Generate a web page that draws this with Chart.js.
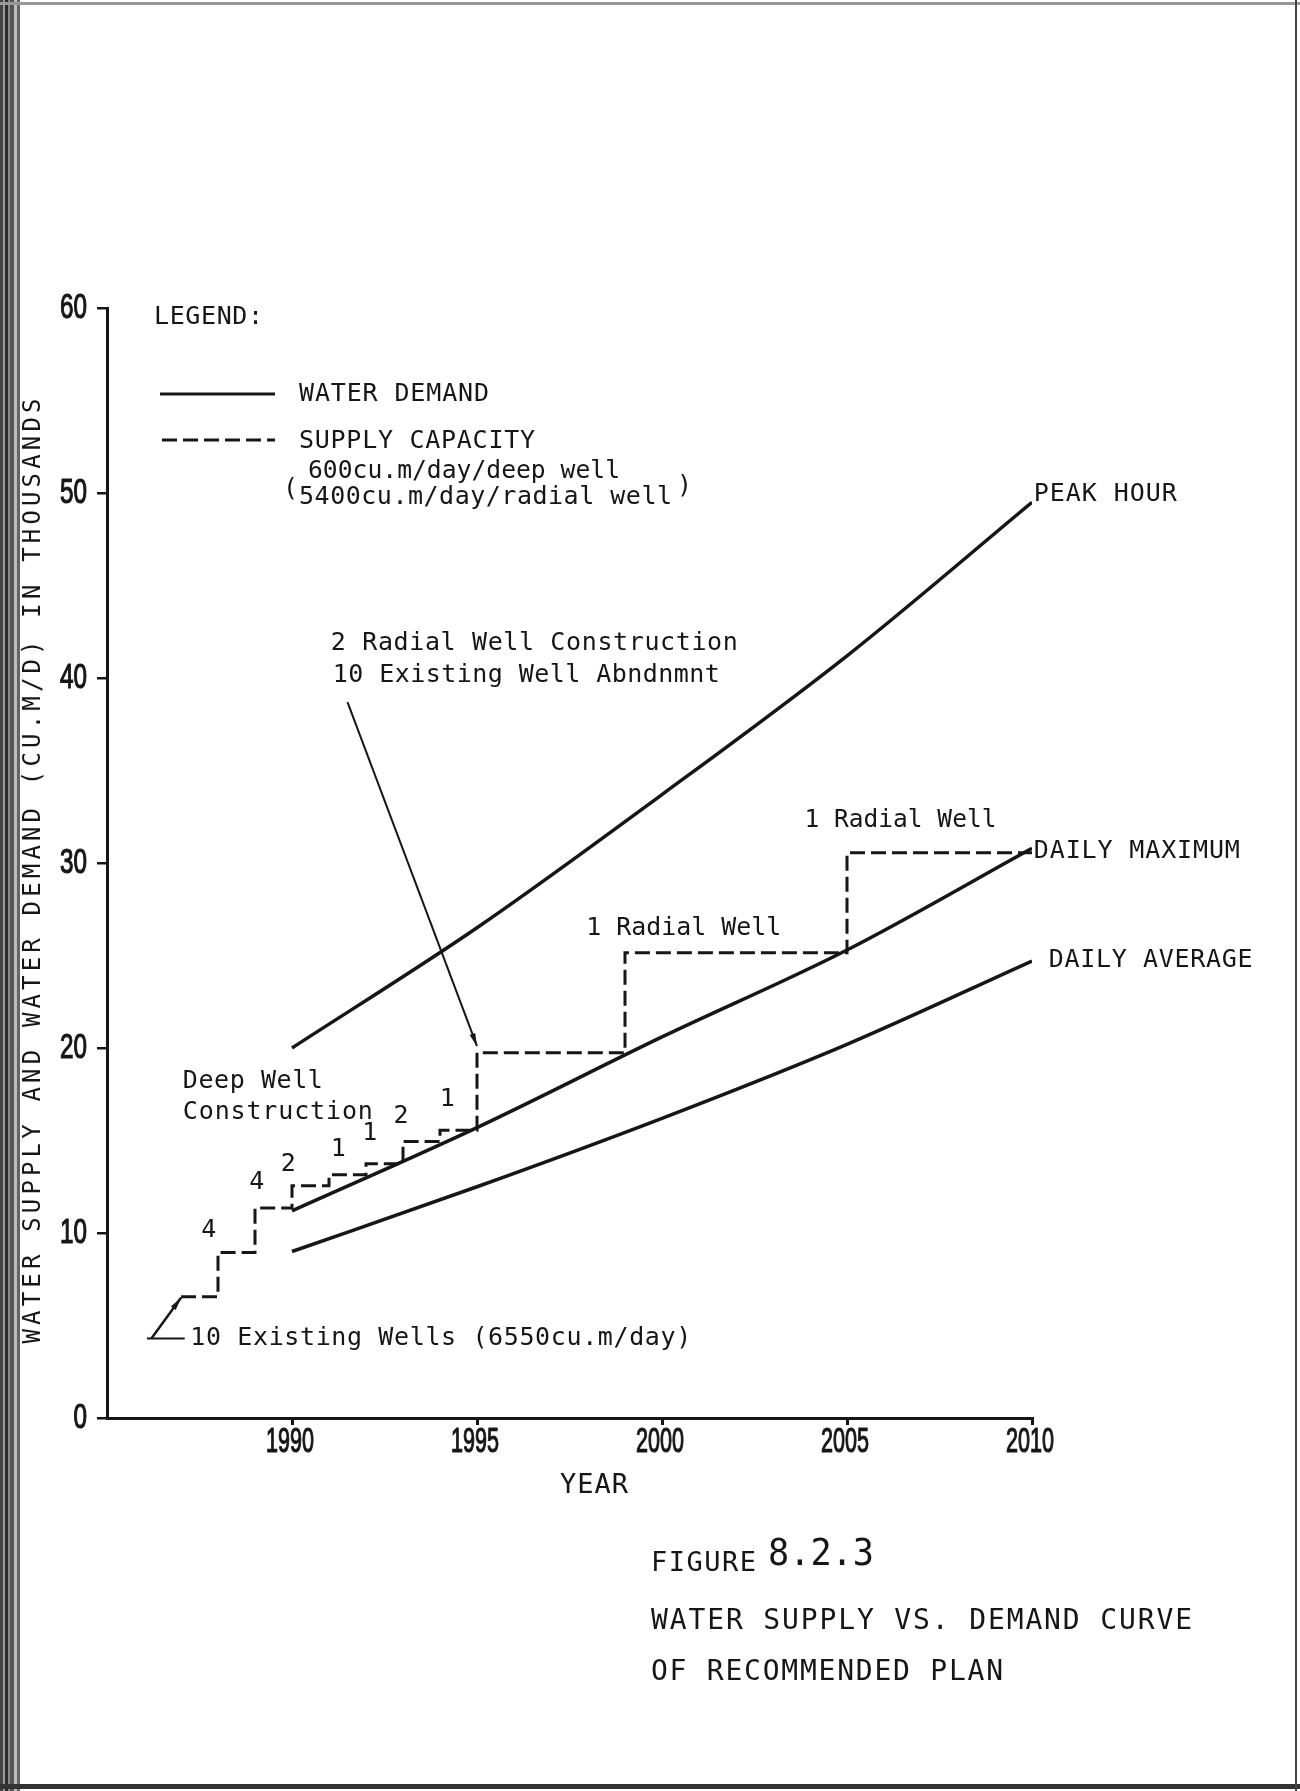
<!DOCTYPE html>
<html>
<head>
<meta charset="utf-8">
<title>Water supply vs. demand curve of recommended plan</title>
<script src="https://cdn.jsdelivr.net/npm/chart.js@4.4.1/dist/chart.umd.min.js"></script>
<style>
  html, body { margin: 0; padding: 0; background: #fff; }
  #wrap { position: relative; width: 1300px; height: 1791px; overflow: hidden; }
  .edge { position: absolute; }
  #edgeLeft { left: 0; top: 0; width: 20px; height: 1791px;
    background: repeating-linear-gradient(90deg, #444 0 3px, #999 3px 5px, #2a2a2a 5px 8px, #888 8px 10px, #555 10px 14px, #bbb 14px 17px, #666 17px 20px); }
  #edgeTop { left: 0; top: 2px; width: 1300px; height: 3px; background: #999; }
  #edgeBottom { left: 0; top: 1784px; width: 1300px; height: 5px; background: #333; }
  #edgeRight { left: 1295px; top: 0; width: 2px; height: 1791px; background: #444; }
</style>
</head>
<body>
<div id="wrap">
  <canvas id="chart"></canvas>
  <div class="edge" id="edgeLeft"></div>
  <div class="edge" id="edgeTop"></div>
  <div class="edge" id="edgeBottom"></div>
  <div class="edge" id="edgeRight"></div>
</div>
<script>
// demand curves, thousands of cu.m/day
var demandYears = [1990, 1995, 2000, 2005, 2010];
var peakHour = [20.0, 26.5, 33.7, 41.2, 49.5];
var dailyMaximum = [11.2, 15.7, 20.6, 25.3, 30.8];
var dailyAverage = [9.0, 12.5, 16.2, 20.2, 24.7];

// supply capacity steps (10 existing wells, then deep wells 600 and radial wells 5400)
var supplyYears = [1987, 1988, 1989, 1990, 1991, 1992, 1993, 1994, 1995, 1999, 2005, 2010];
var supplyCapacity = [6.55, 8.95, 11.35, 12.55, 13.15, 13.75, 14.95, 15.55, 19.75, 25.15, 30.55, 30.55];

var xTicks = [1990, 1995, 2000, 2005, 2010];
var yTicks = [0, 10, 20, 30, 40, 50, 60];

var ink = '#161616';
var mono = '"DejaVu Sans Mono", "Liberation Mono", monospace';
var sans = '"Liberation Sans", Arial, sans-serif';

function toPoints(xs, ys) {
  return xs.map(function (x, i) { return { x: x, y: ys[i] }; });
}

// labels written inside the plot, placed in data units (year, thousands)
var notes = [
  { text: '2 Radial Well Construction', x: 1991.05, y: 41.85, w: 407 },
  { text: '10 Existing Well Abndnmnt', x: 1991.1, y: 40.15, w: 387 },
  { text: 'PEAK HOUR', x: 2010.05, y: 49.9, w: 143 },
  { text: 'DAILY MAXIMUM', x: 2010.05, y: 30.6, w: 206 },
  { text: 'DAILY AVERAGE', x: 2010.45, y: 24.75, w: 204 },
  { text: '1 Radial Well', x: 2003.85, y: 32.3, w: 192 },
  { text: '1 Radial Well', x: 1997.95, y: 26.45, w: 195 },
  { text: 'Deep Well', x: 1987.05, y: 18.2, w: 140 },
  { text: 'Construction', x: 1987.05, y: 16.5, w: 190 },
  { text: '10 Existing Wells (6550cu.m/day)', x: 1987.25, y: 4.3, w: 501 }
];
var wellCounts = [
  { text: '4', x: 1987.75, y: 10.15 },
  { text: '4', x: 1989.05, y: 12.75 },
  { text: '2', x: 1989.9, y: 13.7 },
  { text: '1', x: 1991.25, y: 14.5 },
  { text: '1', x: 1992.1, y: 15.4 },
  { text: '2', x: 1992.95, y: 16.3 },
  { text: '1', x: 1994.2, y: 17.2 }
];

function drawText(ctx, text, x, y, size, width, family, align, heavy) {
  ctx.save();
  ctx.font = size + 'px ' + (family || mono);
  ctx.fillStyle = ink;
  ctx.strokeStyle = ink;
  ctx.textBaseline = 'middle';
  ctx.textAlign = 'left';
  var natural = ctx.measureText(text).width;
  var sx = 1, w = natural;
  if (width) {
    if (natural > width || text.length < 2) {
      sx = width / natural;
    } else {
      ctx.letterSpacing = ((width - natural) / (text.length - 1)) + 'px';
    }
    w = width;
  }
  var left = x;
  if (align === 'center') left = x - w / 2;
  if (align === 'right') left = x - w;
  ctx.translate(left, y);
  ctx.scale(sx, 1);
  ctx.fillText(text, 0, 0);
  if (heavy) {
    ctx.lineWidth = heavy;
    ctx.strokeText(text, 0, 0);
  }
  ctx.restore();
}

function arrow(ctx, x1, y1, x2, y2, width) {
  ctx.save();
  ctx.strokeStyle = ink;
  ctx.fillStyle = ink;
  ctx.lineWidth = width;
  ctx.beginPath();
  ctx.moveTo(x1, y1);
  ctx.lineTo(x2, y2);
  ctx.stroke();
  var a = Math.atan2(y2 - y1, x2 - x1);
  ctx.beginPath();
  ctx.moveTo(x2, y2);
  ctx.lineTo(x2 - 13 * Math.cos(a) + 3 * Math.sin(a), y2 - 13 * Math.sin(a) - 3 * Math.cos(a));
  ctx.lineTo(x2 - 13 * Math.cos(a) - 3 * Math.sin(a), y2 - 13 * Math.sin(a) + 3 * Math.cos(a));
  ctx.closePath();
  ctx.fill();
  ctx.restore();
}

var paperPlugin = {
  id: 'paper',
  afterDraw: function (chart) {
    var ctx = chart.ctx;
    var xs = chart.scales.x, ys = chart.scales.y;
    var area = chart.chartArea;

    // tick labels, narrow plotter digits
    yTicks.forEach(function (v) {
      drawText(ctx, String(v), area.left - 20, ys.getPixelForValue(v), 35, String(v).length * 13.5, sans, 'right', 1.2);
    });
    xTicks.forEach(function (v) {
      drawText(ctx, String(v), xs.getPixelForValue(v) - 2, area.bottom + 24, 35, 48, sans, 'center', 1.2);
    });

    // axis titles
    ctx.save();
    ctx.translate(34, (area.top + area.bottom) / 2 + 8);
    ctx.rotate(-Math.PI / 2);
    drawText(ctx, 'WATER SUPPLY AND WATER DEMAND (CU.M/D) IN THOUSANDS', 0, 0, 24, 945, mono, 'center');
    ctx.restore();
    drawText(ctx, 'YEAR', 594, area.bottom + 68, 27, 68, mono, 'center');

    // legend
    drawText(ctx, 'LEGEND:', 154, 317, 25, 109);
    ctx.save();
    ctx.strokeStyle = ink;
    ctx.lineWidth = 3;
    ctx.beginPath(); ctx.moveTo(160, 394); ctx.lineTo(275, 394); ctx.stroke();
    ctx.setLineDash([15, 6]);
    ctx.beginPath(); ctx.moveTo(162, 440); ctx.lineTo(275, 440); ctx.stroke();
    ctx.restore();
    drawText(ctx, 'WATER DEMAND', 299, 394, 25, 190);
    drawText(ctx, 'SUPPLY CAPACITY', 299, 441, 25, 236);
    drawText(ctx, '600cu.m/day/deep well', 308, 471, 25, 312);
    drawText(ctx, '5400cu.m/day/radial well', 299, 497, 25, 373);
    drawText(ctx, '(', 283, 489, 25);
    drawText(ctx, ')', 677, 486, 25);

    // notes inside the plot
    notes.forEach(function (n) {
      drawText(ctx, n.text, xs.getPixelForValue(n.x), ys.getPixelForValue(n.y), 25, n.w);
    });
    wellCounts.forEach(function (n) {
      drawText(ctx, n.text, xs.getPixelForValue(n.x), ys.getPixelForValue(n.y), 25, null, mono, 'center');
    });

    // leader lines
    arrow(ctx, xs.getPixelForValue(1991.5), ys.getPixelForValue(38.7),
      xs.getPixelForValue(1995), ys.getPixelForValue(20.1), 2);
    ctx.save();
    ctx.strokeStyle = ink;
    ctx.lineWidth = 2;
    ctx.beginPath();
    ctx.moveTo(xs.getPixelForValue(1986.08), ys.getPixelForValue(4.3));
    ctx.lineTo(xs.getPixelForValue(1987.1), ys.getPixelForValue(4.3));
    ctx.stroke();
    ctx.restore();
    arrow(ctx, xs.getPixelForValue(1986.2), ys.getPixelForValue(4.3),
      xs.getPixelForValue(1987.0), ys.getPixelForValue(6.5), 2.5);

    // caption
    drawText(ctx, 'FIGURE', 651, 1564, 27, 105);
    drawText(ctx, '8.2.3', 768, 1555, 38, 106);
    drawText(ctx, 'WATER SUPPLY VS. DEMAND CURVE', 651, 1622, 28, 541);
    drawText(ctx, 'OF RECOMMENDED PLAN', 651, 1673, 28, 352);
  }
};

var demandStyle = {
  borderColor: ink,
  borderWidth: 3.5,
  pointRadius: 0,
  fill: false,
  cubicInterpolationMode: 'monotone'
};

var chart = new Chart(document.getElementById('chart'), {
  type: 'line',
  data: {
    datasets: [
      Object.assign({ label: 'PEAK HOUR', data: toPoints(demandYears, peakHour) }, demandStyle),
      Object.assign({ label: 'DAILY MAXIMUM', data: toPoints(demandYears, dailyMaximum) }, demandStyle),
      Object.assign({ label: 'DAILY AVERAGE', data: toPoints(demandYears, dailyAverage) }, demandStyle),
      {
        label: 'SUPPLY CAPACITY',
        data: toPoints(supplyYears, supplyCapacity),
        borderColor: ink,
        borderWidth: 3,
        borderDash: [15, 6],
        stepped: true,
        pointRadius: 0,
        fill: false
      }
    ]
  },
  options: {
    responsive: true,
    maintainAspectRatio: false,
    animation: false,
    layout: {
      padding: { top: 308, right: 268, bottom: 0, left: 0 }
    },
    plugins: {
      legend: { display: false },
      tooltip: { enabled: false }
    },
    scales: {
      x: {
        type: 'linear',
        min: 1985,
        max: 2010,
        afterBuildTicks: function (s) {
          s.ticks = xTicks.map(function (v) { return { value: v }; });
        },
        afterFit: function (s) { s.height = 373; },
        ticks: { display: false },
        grid: { drawOnChartArea: false, drawTicks: true, tickLength: 7, color: ink, lineWidth: 3 },
        border: { display: true, color: ink, width: 3 }
      },
      y: {
        type: 'linear',
        min: 0,
        max: 60,
        afterBuildTicks: function (s) {
          s.ticks = yTicks.map(function (v) { return { value: v }; });
        },
        afterFit: function (s) { s.width = 107; },
        ticks: { display: false },
        grid: { drawOnChartArea: false, drawTicks: true, tickLength: 10, color: ink, lineWidth: 2.5 },
        border: { display: true, color: ink, width: 3 }
      }
    }
  },
  plugins: [paperPlugin]
});
</script>
</body>
</html>
